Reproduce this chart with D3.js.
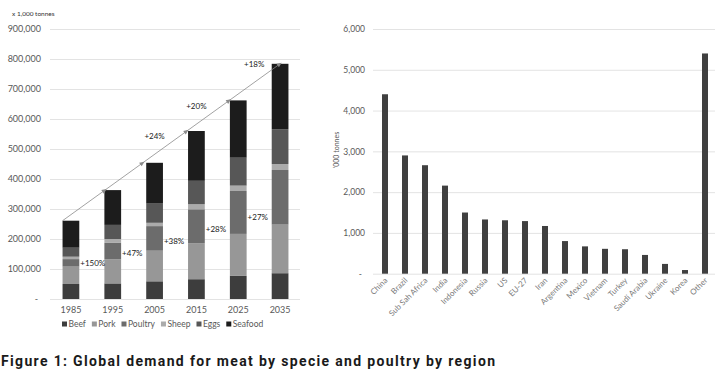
<!DOCTYPE html>
<html>
<head>
<meta charset="utf-8">
<script src="https://cdn.jsdelivr.net/npm/d3@7"></script>
<style>
  body { margin: 0; background: #fff; }
  text { font-family: Lato, "Open Sans", sans-serif; }
</style>
</head>
<body>
<svg id="chart"></svg>
<script>
  // left: demand by specie, x 1,000 tonnes
  const years = ["1985", "1995", "2005", "2015", "2025", "2035"];
  const species = ["Beef", "Pork", "Poultry", "Sheep", "Eggs", "Seafood"];
  const beef = [50000, 52000, 59000, 66000, 77000, 86000];
  const pork = [58000, 80000, 102000, 120000, 140000, 162000];
  const poultry = [25000, 55000, 82000, 113000, 143000, 182000];
  const sheep = [8000, 13000, 11000, 17000, 18000, 20000];
  const eggs = [30000, 47000, 64000, 78000, 93000, 116000];
  const seafood = [90000, 116000, 136000, 166000, 191000, 218000];
  const poultryGrowth = ["+150%", "+47%", "+38%", "+28%", "+27%"];
  const totalGrowth = ["+24%", "+20%", "+18%"];
  const leftTicks = [0, 100000, 200000, 300000, 400000, 500000, 600000, 700000, 800000, 900000];

  // right: poultry demand by region, '000 tonnes
  const regions = ["China", "Brazil", "Sub Sah Africa", "India", "Indonesia", "Russia", "US", "EU-27",
    "Iran", "Argentina", "Mexico", "Vietnam", "Turkey", "Saudi Arabia", "Ukraine", "Korea", "Other"];
  const regionValues = [4400, 2900, 2660, 2160, 1500, 1330, 1310, 1290, 1170, 800, 670, 610, 600, 460, 240, 90, 5400];
  const rightTicks = [0, 1000, 2000, 3000, 4000, 5000, 6000];

  const colors = ["#3d3d3d", "#979797", "#6c6c6c", "#ababab", "#575757", "#1c1c1c"];
  const grid = "#dcdcdc";
  const tickColor = "#595959";

  const svg = d3.select("#chart").attr("width", 718).attr("height", 375);
  svg.append("rect").attr("width", 718).attr("height", 375).attr("fill", "#fff");

  const fmt = (d) => (d === 0 ? "-" : d3.format(",")(d));

  // ---------- left chart ----------
  const series = [beef, pork, poultry, sheep, eggs, seafood];
  const rows = years.map((y, i) => {
    const r = { year: y };
    species.forEach((s, k) => (r[s] = series[k][i]));
    return r;
  });
  const stacked = d3.stack().keys(species)(rows);

  const xL = d3.scaleBand().domain(years).range([50, 301]).paddingInner(0.6).paddingOuter(0.3);
  const yL = d3.scaleLinear().domain([0, 900000]).range([299, 29]);
  const bw = xL.bandwidth();

  const left = svg.append("g");

  left.append("g")
    .call(d3.axisLeft(yL).tickValues(leftTicks).tickSize(-250).tickFormat(fmt))
    .attr("transform", "translate(50,0)")
    .call((g) => g.select(".domain").remove())
    .call((g) => g.selectAll(".tick line").attr("stroke", grid).attr("stroke-width", 0.8))
    .call((g) => g.selectAll(".tick text")
      .attr("x", -9).attr("fill", tickColor)
      .style("font-size", "9px").style("font-family", "Lato, sans-serif")
      .filter((d) => d === 0).attr("x", -12));

  left.append("text").attr("x", 12).attr("y", 16)
    .style("font-size", "6.5px").attr("fill", "#333").text("x 1,000 tonnes");

  left.selectAll("g.layer")
    .data(stacked)
    .join("g")
    .attr("class", "layer")
    .attr("fill", (d, i) => colors[i])
    .selectAll("rect")
    .data((d) => d)
    .join("rect")
    .attr("x", (d) => xL(d.data.year))
    .attr("y", (d) => yL(d[1]))
    .attr("width", bw)
    .attr("height", (d) => yL(d[0]) - yL(d[1]));

  left.append("g")
    .selectAll("text")
    .data(years)
    .join("text")
    .attr("x", (d) => xL(d) + bw / 2)
    .attr("y", 313)
    .attr("text-anchor", "middle")
    .attr("fill", tickColor)
    .style("font-size", "9px")
    .text((d) => d);

  // trend line across the totals
  const totals = rows.map((r) => d3.sum(species, (s) => r[s]));
  const p0 = [xL(years[0]), yL(totals[0])];
  const p1 = [xL(years[5]) + bw / 2, yL(totals[5])];
  const slope = (p1[1] - p0[1]) / (p1[0] - p0[0]);
  const xAtY = (y) => p0[0] + (y - p0[1]) / slope;
  const yAtX = (x) => p0[1] + (x - p0[0]) * slope;
  const ang = (Math.atan2(p1[1] - p0[1], p1[0] - p0[0]) * 180) / Math.PI;

  left.append("line")
    .attr("x1", p0[0]).attr("y1", p0[1]).attr("x2", p1[0]).attr("y2", p1[1])
    .attr("stroke", "#8a8a8a").attr("stroke-width", 0.8);

  left.append("g")
    .selectAll("path")
    .data(totals.slice(1))
    .join("path")
    .attr("d", "M2,0 L-3,-2.2 L-3,2.2 Z")
    .attr("fill", "#8a8a8a")
    .attr("transform", (d) => `translate(${xAtY(yL(d))},${yL(d)}) rotate(${ang})`);

  left.append("g")
    .selectAll("text")
    .data(poultryGrowth)
    .join("text")
    .attr("x", (d, i) => xL(years[i]) + bw + 1)
    .attr("y", (d, i) => yL(beef[i] + pork[i] + poultry[i] * 0.4))
    .attr("dy", "0.35em")
    .attr("fill", "#222")
    .style("font-size", "8px")
    .text((d) => d);

  left.append("g")
    .selectAll("text")
    .data(totalGrowth)
    .join("text")
    .attr("x", (d, i) => xL(years[i + 2]) + bw / 2 + (i === 2 ? 16 : 0))
    .attr("y", (d, i) => yAtX(xL(years[i + 2]) + bw / 2 + (i === 2 ? 16 : 0)) - 18)
    .attr("dy", "0.35em")
    .attr("text-anchor", "middle")
    .attr("fill", "#222")
    .style("font-size", "8px")
    .text((d) => d);

  // legend
  const legend = left.append("g").attr("transform", "translate(62,324)");
  let lx = 0;
  species.forEach((s, i) => {
    const g = legend.append("g").attr("transform", `translate(${lx},0)`);
    g.append("rect").attr("x", 0).attr("y", -2.5).attr("width", 5).attr("height", 5).attr("fill", colors[i]);
    const t = g.append("text").attr("x", 6.5).attr("y", 0).attr("dy", "0.35em")
      .attr("fill", tickColor).style("font-size", "8.5px").text(s);
    lx += 6.5 + t.node().getComputedTextLength() + 6;
  });

  // ---------- right chart ----------
  const xR = d3.scaleBand().domain(regions).range([375, 715]).paddingInner(0.7).paddingOuter(0.35);
  const yR = d3.scaleLinear().domain([0, 6000]).range([273.7, 29]);

  const right = svg.append("g");

  right.append("g")
    .attr("transform", "translate(373,0)")
    .call(d3.axisLeft(yR).tickValues(rightTicks).tickSize(-342).tickFormat(fmt))
    .call((g) => g.select(".domain").remove())
    .call((g) => g.selectAll(".tick line").attr("stroke", grid).attr("stroke-width", 0.8))
    .call((g) => g.selectAll(".tick text")
      .attr("x", -8).attr("fill", tickColor)
      .style("font-size", "8.5px").style("font-family", "Lato, sans-serif")
      .filter((d) => d === 0).attr("x", -11));

  right.append("text")
    .attr("transform", "translate(339,150) rotate(-90)")
    .attr("text-anchor", "middle")
    .attr("fill", tickColor)
    .style("font-size", "7px")
    .text("'000 tonnes");

  right.append("g")
    .selectAll("rect")
    .data(regionValues)
    .join("rect")
    .attr("x", (d, i) => xR(regions[i]))
    .attr("y", (d) => yR(d))
    .attr("width", xR.bandwidth())
    .attr("height", (d) => yR(0) - yR(d))
    .attr("fill", "#404040");

  right.append("g")
    .selectAll("text")
    .data(regions)
    .join("text")
    .attr("transform", (d) => `translate(${xR(d) + xR.bandwidth() / 2 + 3},${281}) rotate(-45)`)
    .attr("text-anchor", "end")
    .attr("fill", "#7a7a7a")
    .style("font-size", "8px")
    .text((d) => d);

  // caption
  svg.append("text")
    .attr("x", 1)
    .attr("y", 366)
    .attr("fill", "#1a1a1a")
    .style("font-family", "Roboto, sans-serif")
    .style("font-weight", 700)
    .style("font-size", "14px")
    .attr("textLength", 494)
    .text("Figure 1: Global demand for meat by specie and poultry by region");
</script>
</body>
</html>
